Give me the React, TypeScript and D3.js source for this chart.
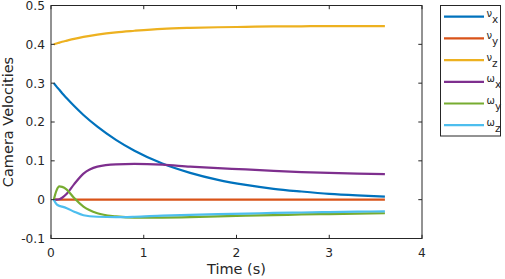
import React from 'react';
import * as d3 from 'd3';

// time samples (s)
const time = [0.03, 0.06, 0.09, 0.12, 0.17, 0.25, 0.35, 0.5, 0.7, 0.9, 1.2, 1.5, 1.8, 2.1, 2.4, 2.7, 3.0, 3.3, 3.6];

const vx = [0.3, 0.291, 0.283, 0.274, 0.261, 0.241, 0.218, 0.188, 0.154, 0.126, 0.093, 0.069, 0.051, 0.038, 0.028, 0.021, 0.015, 0.011, 0.008];
const vy = [0, 0, 0, 0, 0, 0, 0, 0, 0, 0, 0, 0, 0, 0, 0, 0, 0, 0, 0];
const vz = [0.4, 0.402, 0.4045, 0.4066, 0.4095, 0.414, 0.419, 0.425, 0.431, 0.435, 0.44, 0.4425, 0.444, 0.445, 0.446, 0.4465, 0.447, 0.447, 0.447];
const wx = [0, 0, 0.001, 0.005, 0.015, 0.04, 0.067, 0.085, 0.091, 0.092, 0.09, 0.085, 0.081, 0.078, 0.074, 0.071, 0.069, 0.067, 0.066];
const wy = [0, 0.024, 0.034, 0.033, 0.026, 0.004, -0.018, -0.035, -0.043, -0.046, -0.046, -0.045, -0.043, -0.041, -0.04, -0.038, -0.037, -0.036, -0.035];
const wz = [0, -0.012, -0.016, -0.018, -0.022, -0.031, -0.04, -0.044, -0.045, -0.044, -0.041, -0.039, -0.037, -0.036, -0.034, -0.033, -0.032, -0.031, -0.03];

const xTicks = [0, 1, 2, 3, 4];
const yTicks = [-0.1, 0, 0.1, 0.2, 0.3, 0.4, 0.5];

const series = [
  { sym: 'ν', sub: 'x', values: vx, color: '#0072BD' },
  { sym: 'ν', sub: 'y', values: vy, color: '#D95319' },
  { sym: 'ν', sub: 'z', values: vz, color: '#EDB120' },
  { sym: 'ω', sub: 'x', values: wx, color: '#7E2F8E' },
  { sym: 'ω', sub: 'y', values: wy, color: '#77AC30' },
  { sym: 'ω', sub: 'z', values: wz, color: '#4DBEEE' },
];

const W = 505;
const H = 279;
const left = 51;
const right = 422;
const top = 5.5;
const bottom = 238.5;
const axisColor = '#262626';
const font = '"DejaVu Sans", sans-serif';

const App: React.FC = () => {
  const x = d3.scaleLinear().domain([0, 4]).range([left, right]);
  const y = d3.scaleLinear().domain([-0.1, 0.5]).range([bottom, top]);

  const line = d3.line<number>()
    .x((_, i) => x(time[i]))
    .y(d => y(d))
    .curve(d3.curveMonotoneX);

  const legX = 440.5;
  const legY = 5.5;
  const rowH = 21.7;

  return (
    <svg width={W} height={H} style={{ position: 'absolute', left: 0, top: 0, background: '#fff' }} fontFamily={font}>
      <rect x={0} y={0} width={W} height={H} fill="#fff" />

      {series.map(s => (
        <path key={s.sym + s.sub} d={line(s.values) || ''} fill="none" stroke={s.color} strokeWidth={2.2} strokeLinejoin="round" />
      ))}

      {/* box and ticks */}
      <rect x={left} y={top} width={right - left} height={bottom - top} fill="none" stroke={axisColor} strokeWidth={1} />
      {xTicks.map(t => (
        <g key={'xt' + t}>
          <line x1={x(t)} x2={x(t)} y1={bottom} y2={bottom - 3.7} stroke={axisColor} />
          <line x1={x(t)} x2={x(t)} y1={top} y2={top + 3.7} stroke={axisColor} />
          <text x={x(t)} y={257} textAnchor="middle" fontSize={12.2} fill={axisColor}>{t}</text>
        </g>
      ))}
      {yTicks.map(t => (
        <g key={'yt' + t}>
          <line x1={left} x2={left + 3.7} y1={y(t)} y2={y(t)} stroke={axisColor} />
          <line x1={right} x2={right - 3.7} y1={y(t)} y2={y(t)} stroke={axisColor} />
          <text x={45} y={y(t)} dy="0.36em" textAnchor="end" fontSize={12.2} fill={axisColor}>{t}</text>
        </g>
      ))}

      <text x={(left + right) / 2} y={274} textAnchor="middle" fontSize={14.5} fill={axisColor}>Time (s)</text>
      <text transform={`translate(13,${(top + bottom) / 2}) rotate(-90)`} textAnchor="middle" fontSize={14.5} fill={axisColor}>Camera Velocities</text>

      {/* legend */}
      <rect x={legX} y={legY} width={60} height={130.5} fill="#fff" stroke={axisColor} strokeWidth={1} />
      {series.map((s, i) => {
        const cy = 16.7 + i * rowH;
        return (
          <g key={'lg' + i}>
            <line x1={444} x2={484} y1={cy} y2={cy} stroke={s.color} strokeWidth={2.2} />
            <text x={486.5} y={cy + 0.5} fontSize={10} fill={axisColor}>
              {s.sym}
              <tspan dy={6} fontSize={10.5}>{s.sub}</tspan>
            </text>
          </g>
        );
      })}
    </svg>
  );
};

export default App;
